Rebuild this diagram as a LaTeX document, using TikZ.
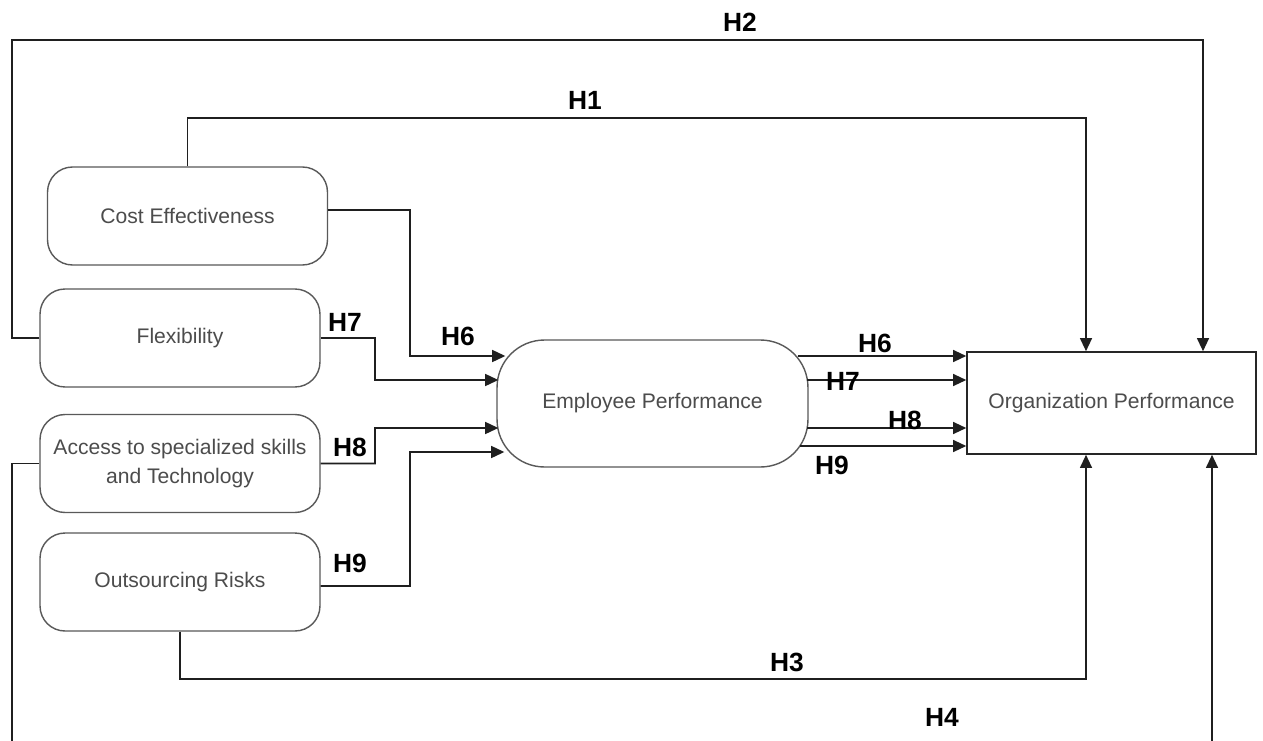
\documentclass[tikz,border=0pt]{standalone}
\usepackage{fontspec}
\setmainfont{Liberation Sans}
\usetikzlibrary{arrows.meta,calc}
\begin{document}
\begin{tikzpicture}[x=0.02cm,y=-0.02cm,
  conn/.style={draw=black!88,line width=1pt},
  arr/.style={conn,-{Triangle[length=7.5pt,width=6.8pt]}},
  varbox/.style={draw=black!65,line width=0.8pt,rounded corners=0.5cm,minimum width=5.6cm,minimum height=1.96cm,inner sep=0pt,align=center,text=black!70,font=\fontsize{12}{16}\selectfont},
  hlab/.style={font=\bfseries\fontsize{15}{15}\selectfont,text=black,inner sep=0pt}]
\clip (0,0) rectangle (1263,740);
\fill[white] (0,0) rectangle (1263,740);

\node[varbox] (CE) at (187.5,216) {Cost Effectiveness};
\node[varbox] (FL) at (180,338) {Flexibility};
\node[varbox] (AC) at (180,463.5) {Access to specialized skills\\and Technology};
\node[varbox] (OR) at (180,582) {Outsourcing Risks};
\node[draw=black!65,line width=0.8pt,rounded corners=0.95cm,minimum width=6.22cm,minimum height=2.54cm,inner sep=0pt,text=black!70,font=\fontsize{12}{16}\selectfont] (EP) at (652.5,403.5) {Employee Performance};
\node[draw=black!85,line width=0.9pt,minimum width=5.78cm,minimum height=2.04cm,inner sep=0pt,text=black!70,font=\fontsize{12}{16}\selectfont] (OP) at (1111.5,403) {Organization Performance};

% H1, H2 (top)
\coordinate (h1) at (1086,118);
\draw[arr] (CE.north) |- (h1) -- (h1 |- OP.north);
\coordinate (h2a) at (12,40);
\coordinate (h2b) at (1203,40);
\draw[arr] (FL.west) -| (h2a) -- (h2b) -- (h2b |- OP.north);
% H3, H4 (bottom)
\coordinate (h3) at (1086,679);
\draw[arr] (OR.south) |- (h3) -- (h3 |- OP.south);
\coordinate (h4a) at (12,760);
\coordinate (h4b) at (1212,760);
\draw[arr] (AC.west) -| (h4a) -- (h4b) -- (h4b |- OP.south);

% into Employee Performance
\coordinate (e6) at ($(EP.west)+(9,-47.5)$);
\coordinate (e7) at ($(EP.west)+(2,-23.5)$);
\coordinate (e8) at ($(EP.west)+(2,24.5)$);
\coordinate (e9) at ($(EP.west)+(8,48.5)$);
\coordinate (k6) at (410,356);
\coordinate (k7) at (375,380);
\coordinate (k8) at (375,428);
\coordinate (k9) at (410,452);
\draw[arr] ($(CE.east)+(0,-6)$) -| (k6) -- (e6);
\draw[arr] (FL.east) -| (k7) -- (e7);
\draw[arr] (AC.east) -| (k8) -- (e8);
\draw[arr] ($(OR.east)+(0,4)$) -| (k9) -- (e9);

% Employee -> Organization
\coordinate (s6) at ($(EP.east)+(-11,-47.5)$);
\coordinate (s7) at ($(EP.east)+(-2,-23.5)$);
\coordinate (s8) at ($(EP.east)+(-2,24.5)$);
\coordinate (s9) at ($(EP.east)+(-9,42.5)$);
\draw[arr] (s6) -- (s6 -| OP.west);
\draw[arr] (s7) -- (s7 -| OP.west);
\draw[arr] (s8) -- (s8 -| OP.west);
\draw[arr] (s9) -- (s9 -| OP.west);

% labels
\node[hlab] (L2) at (740,22) {H2};
\node[hlab] (L1) at (585,100) {H1};
\node[hlab] (L3) at (787,662) {H3};
\node[hlab] (L4) at (942,717) {H4};
\node[hlab] (L7a) at (345,322) {H7};
\node[hlab] (L6a) at (458,336) {H6};
\node[hlab] (L8a) at (350,447) {H8};
\node[hlab] (L9a) at (350,563) {H9};
\node[hlab] (L6b) at (875,343) {H6};
\node[hlab] (L7b) at (843,381) {H7};
\node[hlab] (L8b) at (905,420) {H8};
\node[hlab] (L9b) at (832,465) {H9};
\end{tikzpicture}
\end{document}
